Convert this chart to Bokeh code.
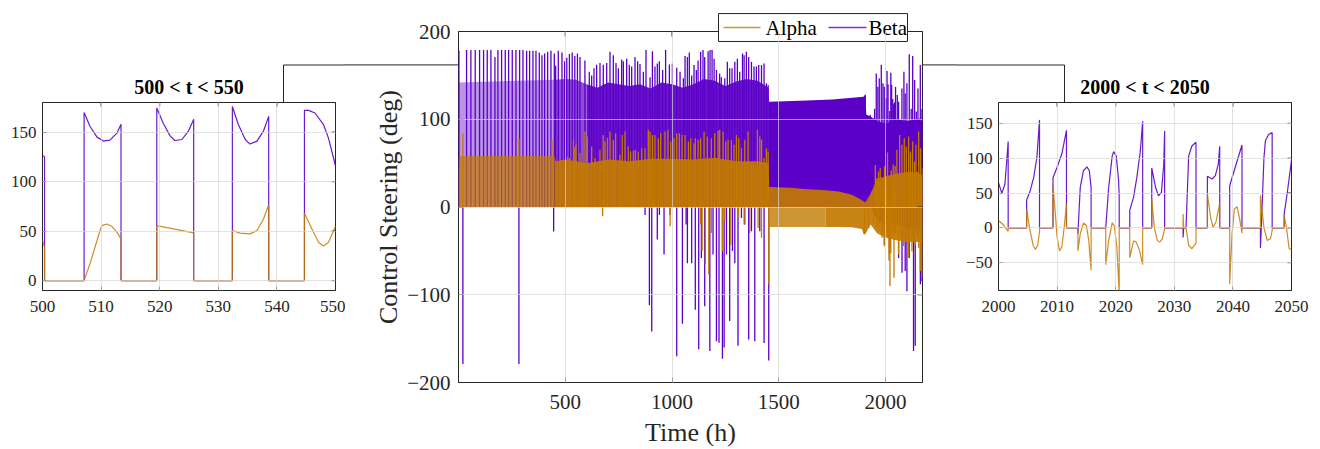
import numpy as np
from bokeh.plotting import figure
from bokeh.layouts import row, column
from bokeh.models import Range1d, FixedTicker, Title
from bokeh.core.properties import value
from bokeh.embed import file_html
from bokeh.resources import INLINE

FONT = "Liberation Serif"
BETA_C = "#5C00C8"
ALPHA_C = "#C27A00"
AX_C = "#262626"
GRID_C = "#d6d6d6"

# ---------------- inset 500 < t < 550 ----------------
l_beta_t = [500, 500.35, 500.35, 507.1, 507.1, 508.1, 509.3, 510.4, 511.5, 512.7, 513.4, 513.4,
            519.5, 519.5, 520.6, 521.8, 522.6, 523.8, 524.9, 525.8, 525.8,
            532.4, 532.4, 533.4, 534.6, 535.4, 536.6, 537.7, 538.6, 538.6,
            544.7, 544.7, 545.4, 546.5, 547.95, 548.8, 550]
l_beta_v = [126.5, 125.5, 0, 0, 170, 156, 145, 141, 142, 149, 158, 0,
            0, 174.4, 159, 146, 141.6, 142.6, 151, 163, 0,
            0, 176, 158, 142.6, 138, 141, 151, 166, 0,
            0, 172, 172, 169.4, 157.7, 144, 116]
l_alpha_t = [500, 500.35, 500.35,
             507.1, 508.1, 509.3, 510.1, 511.0, 511.8, 512.7, 513.4, 513.4,
             519.5, 519.5, 525.8, 525.8,
             532.4, 532.4, 533.7, 535.4, 536.6, 537.7, 538.6, 538.6,
             544.7, 544.7, 546.0, 547.1, 547.95, 548.8, 550]
l_alpha_v = [40.5, 33.8, 0,
             0, 17, 40.5, 55.6, 57.2, 55, 49, 42, 0,
             0, 55.6, 48.2, 0,
             0, 50.6, 48, 47.2, 50.6, 62, 76.7, 0,
             0, 68, 52, 38.8, 35, 38.8, 54.6]

# ---------------- inset 2000 < t < 2050 ----------------
r_beta_t = [2000, 2000.57, 2001.1, 2001.4, 2001.65, 2001.65, 2004.8,
            2004.8, 2005.4, 2006, 2006.55, 2007.0, 2007.0, 2009.3,
            2009.3, 2010, 2010.8, 2011.6, 2011.6, 2013.55,
            2013.55, 2013.95, 2014.5, 2015.1, 2015.5, 2015.8, 2015.8, 2018.3,
            2018.8, 2019.4, 2019.65, 2020.1, 2020.5, 2020.6, 2020.6, 2022.4,
            2022.4, 2023.05, 2023.6, 2024.2, 2024.6, 2024.6, 2026.15,
            2026.15, 2026.8, 2027.3, 2027.8, 2028.2, 2028.35, 2028.35, 2031.5,
            2031.5, 2031.6, 2032.0,
            2032.45, 2033.0, 2033.7, 2033.7, 2035.65,
            2035.65, 2036.45, 2037.0, 2037.5, 2037.75, 2037.75, 2039.45,
            2039.45, 2040.4, 2041.55, 2041.55, 2044.7,
            2044.7, 2044.85, 2045.3, 2045.55, 2046.1, 2046.7, 2046.7, 2048.75,
            2048.75, 2049.25, 2050]
r_beta_v = [65, 49.5, 63, 96, 124, 0, 0,
            40, 53, 72, 101, 155, 0, 0,
            72, 87, 106, 140, 0, 0,
            -8.6, 58, 82, 87.6, 82, 58, 0, 0,
            58, 103, 109.5, 103, 67.6, 44, 0, 0,
            25, 44, 72, 110, 153, 0, 0,
            86, 58, 46, 51, 91, 139, 0, 0,
            -14, 0, 0,
            103, 117.6, 123, 0, 0,
            74, 70, 75, 91, 117, 0, 0,
            60.5, 87, 119, 0, 0,
            -29, 0, 101, 125, 134, 136.7, 0, 0,
            20, 48.6, 97]
r_alpha_t = [2000, 2000.85, 2001.65, 2001.65, 2004.8,
             2004.8, 2005.3, 2005.9, 2006.3, 2006.7, 2007.0, 2007.0, 2009.3,
             2009.3, 2009.7, 2010, 2010.4, 2010.8, 2011.2, 2011.6, 2011.6, 2013.55,
             2013.55, 2013.95, 2014.5, 2015, 2015.4, 2015.8, 2015.8, 2018.3,
             2018.3, 2018.8, 2019.4, 2019.75, 2020.2, 2020.6, 2020.6, 2022.4,
             2022.4, 2023.05, 2023.5, 2024.05, 2024.6, 2024.6, 2026.15,
             2026.15, 2026.6, 2027.1, 2027.5, 2027.95, 2028.35, 2028.35, 2031.5,
             2031.5, 2031.6, 2032.0, 2032.45, 2033.0, 2033.7, 2033.7, 2035.65,
             2035.65, 2036.2, 2036.6, 2037.1, 2037.75, 2037.75, 2039.45,
             2039.45, 2039.85, 2040.25, 2040.7, 2041.15, 2041.55, 2041.55, 2044.7,
             2044.7, 2045.3, 2045.85, 2046.4, 2046.7, 2046.7, 2048.75,
             2048.75, 2049.15, 2049.6, 2050]
r_alpha_v = [10.5, 4, -5, 0, 0,
             27, 0, -25, -31, -25, -5, 0, 0,
             62, 20, -13, -33, -27.6, 0, 34, 0, 0,
             -33, -8.6, 7, 3.3, -18, -61, 0, 0,
             -53, -18, 7, 3.3, -27.6, -95, 0, 0,
             -43, -18.6, -20.5, -32, -53, 0, 0,
             42, 0, -18, -20.5, -15.7, -1.4, 0, 0,
             20, 0, 0, -25, -30, -22, 0, 0,
             48.6, 15, 1, 8, 35, 0, 0,
             -80.5, -8.6, 27, 30.5, 13, -7.6, 0, 0,
             46.7, 0, -18, -15.7, -4, 0, 0,
             17.6, 0, -30, -31]

# ---------------- main panel: dense bodies (envelopes) ----------------
beta_body_t = [0, 450, 500, 550, 600, 650, 700, 750, 800, 850, 900, 950, 1000, 1050,
               1100, 1150, 1200, 1250, 1300, 1350, 1400, 1452,
               1455, 1600, 1750, 1897, 1905, 1910, 1930, 1960, 2000, 2050, 2100, 2150, 2173]
beta_body_hi = [142, 145, 146, 145, 140, 136, 142, 140, 138, 140, 135, 142, 140, 136,
                140, 146, 144, 138, 143, 146, 144, 136,
                120, 121, 122.5, 125.7, 128, 105, 103, 98, 95, 100, 98, 100, 98]
beta_body_lo = [0, 0, 0, 0, 0, 0, 0, 0, 0, 0, 0, 0, 0, 0,
                0, 0, 0, 0, 0, 0, 0, 0,
                0, 0, 0, 0, 0, 0, 0, -15, -20, -20, -25, -25, -25]

alpha_body_t = [0, 5, 450, 455, 500, 550, 600, 700, 800, 900, 1000, 1100, 1200, 1300, 1400, 1452,
                1455, 1550, 1623, 1720, 1780, 1842, 1889, 1897, 1905, 1930, 1960, 2000, 2050, 2100, 2150, 2173]
alpha_body_hi = [40, 58, 58, 52, 54, 52, 50, 54, 52, 55, 55, 54, 56, 52, 52, 50,
                 22.7, 21.8, 20.5, 19.2, 17.8, 14, 8, 6.4, 5, 15, 32, 35, 38, 40, 40, 36]
alpha_body_lo = [0, 0, 0, 0, 0, 0, 0, 0, 0, 0, 0, 0, 0, 0, 0, 0,
                 -22.7, -22.7, -22.7, -22.7, -22.7, -23, -25, -31, -31, -20, -30, -35, -38, -40, -40, -40]

# ---------------- main panel: individual excursions ----------------
beta_spk_t = [2, 37.8, 58, 78.4, 98.7, 117.4, 134.6, 151.8, 170.6, 184.6, 201.8, 219, 234.6, 251.8,
              269, 286.2, 301.8, 319, 333, 348.7, 362.8, 378.4, 390.9, 403.4, 417.4, 433, 448.7,
              455, 467.4, 484.6, 497, 507.1, 519.5, 532.4, 544.7,
              557, 569, 592, 612.6, 623.6, 634.5, 647, 662.6, 678, 694, 709.5, 725, 737.6, 748.6,
              764, 772, 787.6, 800, 811, 826.7, 839, 850, 865.7, 878, 897, 908, 920, 931, 940.7,
              956, 970, 987.6, 1001.7, 1022, 1037.6, 1053, 1061, 1072, 1081, 1092, 1103,
              1114, 1122, 1134, 1145, 1153, 1169, 1178, 1187.5, 1197, 1208, 1223, 1231, 1247,
              1259, 1270, 1281, 1294, 1306, 1317, 1330, 1337.5, 1348, 1359, 1372, 1384, 1395,
              1406, 1419, 1431, 1442, 1450,
              1905, 1928, 1936, 1948.6, 1956.4, 1964, 1970.5, 1980, 1987.7, 1994,
              2001.65, 2007, 2011.6, 2015.1, 2019.65, 2024.6, 2028.35, 2033.7, 2037.75, 2041.55,
              2046.7, 2055, 2061, 2076.7, 2086, 2092, 2100, 2111, 2120, 2127, 2136, 2144,
              2151.7, 2162.7, 2170.5,
              20.5, 283, 445.6, 873.6, 894, 905, 931, 941, 962.6, 990.7, 1022, 1048.6, 1066,
              1072, 1092, 1109, 1125, 1137.5, 1153, 1177, 1192, 1208, 1220, 1236, 1244, 1255,
              1270, 1283, 1294, 1309, 1325, 1340.6, 1359, 1372, 1387.5, 1411, 1431, 1453,
              1983, 1995, 2013.55, 2031.5, 2044.7, 2061, 2077, 2092, 2100, 2111, 2123.6,
              2131, 2139, 2148.6, 2163, 2170.5]
beta_spk_v = [178, 179, 179, 179, 179, 179, 179, 179, 171, 179, 179, 179, 179, 179,
              179, 179, 179, 178, 178, 178, 178, 176, 173, 175, 177, 178, 175,
              161, 178, 176, 166, 170, 174.4, 176, 172,
              175, 171, 167, 154, 150, 158, 162, 164, 162, 164, 177, 173, 164, 158,
              168, 166, 169, 162, 160, 171, 166, 163, 154, 178.8, 148, 177.6, 160, 163.6, 166,
              156, 178.8, 162.5, 163.6, 158.7, 154, 146.6, 172, 171, 176, 150, 161.7,
              156, 167, 177, 178.8, 171, 177.6, 178.8, 178.8, 169, 156, 152, 148, 146.6,
              165.5, 158, 158, 165.5, 169, 154, 175, 173, 177, 171, 165.5, 160, 160,
              161.7, 161.7, 163.6, 141, 139,
              128, 105, 101, 112, 152, 137, 146.6, 162, 141, 137,
              124, 155, 140, 87.6, 109.5, 153, 139, 123, 117, 119,
              136.7, 127.6, 120, 135, 154, 129.5, 141, 174, 112, 172, 144.7, 108.7,
              135, 161.7, 112,
              -179, -179, -28, -9, -112, -142, -37, -9, -54, -9, -170, -133, -20,
              -64, -64, -117, -162, -58, -113, -164, -54, -153, -154.6, -173, -160, -54,
              -130, -50, -64, -158, -12.5, -20, -151, -27.7, -153, -27.7, -155, -175,
              -28, -43, -8.6, -14, -29, -58, -75, -73, -96, -58, -35,
              -164, -158, -35, -88, -84.5]

alpha_spk_t = [20.5, 283, 438, 511, 519.5, 538.6, 544.7,
               550, 569, 592, 603, 623.6, 639, 662.6, 678, 686, 697, 709.5, 725, 736, 756, 767,
               780, 795, 806, 819, 828, 842, 858, 873.6, 889, 897, 908, 920, 936, 947, 967, 981,
               994, 1009.5, 1022, 1034.5, 1047, 1061, 1076.7, 1087.6, 1103, 1109, 1122, 1134,
               1150, 1165.6, 1184, 1200, 1215.6, 1223, 1239, 1251.6, 1262.5, 1278, 1290.6,
               1301.6, 1312.5, 1325, 1340.6, 1356, 1372, 1384, 1400, 1411, 1419, 1431, 1442, 1450,
               1936, 1952, 1959.6, 1967, 1975, 1987.7, 1995, 2004.8, 2009.3, 2011.6, 2026.15,
               2031.5, 2035.65, 2037.75, 2040.7, 2044.7, 2048.75, 2053, 2066, 2076.7, 2087.7,
               2097, 2108, 2117, 2126.7, 2136, 2142.4, 2155, 2164, 2173,
               675, 991, 1134, 1141, 1156, 1172, 1184, 1236, 1247, 1275, 1312, 1337.5, 1364,
               1403, 1419, 1453, 1902, 1920.5, 1944, 1959.6, 1967, 1983, 1994, 2006.3, 2010.4,
               2013.55, 2015.8, 2018.3, 2020.6, 2022.4, 2024.6, 2033, 2039.45, 2050, 2061,
               2073.6, 2084.5, 2092, 2108, 2123.6, 2139, 2155, 2162.7, 2170.5]
alpha_spk_v = [84, 78, 76.5, 57.2, 55.6, 76.7, 68,
               70.8, 61.4, 86, 80.3, 69, 55.7, 65.2, 82, 74.6, 79, 86, 76.5, 84, 59.5, 82,
               86, 69, 63.3, 64, 65.2, 63.3, 67, 67, 88, 86, 82, 82, 78.4, 84, 86, 88,
               74.6, 78.4, 84, 84, 82, 82, 74.6, 78.4, 72.7, 78.4, 76.5, 78.4,
               86, 80.3, 78.4, 84, 86.7, 88, 86, 74.6, 76.5, 76.5, 70.8,
               82, 78.4, 67, 76.5, 86, 50, 48, 88, 80.3, 76.5, 55.7, 67, 63.3,
               17.8, 48, 33, 40.5, 44.3, 33, 46.2, 27, 62, 34, 42,
               20, 48.6, 35, 30.5, 46.7, 17.6, 65.2, 82, 70.8, 78.4,
               69, 80.3, 63.3, 74.6, 51.9, 70.8, 86, 67, 44.3,
               -10.6, -22, -20, -50, -65, -77, -29.6, -50.4, -16.3, -43, -12.5, -20, -29.6,
               -24, -35, -88, -31, -24, -20, -24, -27.7, -35, -44.7, -31, -33,
               -33, -61, -53, -90, -43, -53, -30, -80.5, -31, -54,
               -35, -44.7, -35, -58, -50.4, -43, -46.6, -73, -80.7]

series_names = ["Alpha", "Beta"]
main_xticks = [500, 1000, 1500, 2000]
main_yticks = [-200, -100, 0, 100, 200]
l_xticks = [500, 510, 520, 530, 540, 550]
l_yticks = [0, 50, 100, 150]
r_xticks = [2000, 2010, 2020, 2030, 2040, 2050]
r_yticks = [-50, 0, 50, 100, 150]


def make_fig(width, height, xr, yr, borders):
    l, r, t, b = borders
    p = figure(width=width, height=height, x_range=Range1d(*xr), y_range=Range1d(*yr),
               output_backend="svg", toolbar_location=None,
               min_border_left=l, min_border_right=r, min_border_top=t, min_border_bottom=b,
               background_fill_color="white", border_fill_color="white",
               outline_line_color=AX_C, outline_line_width=1)
    return p


def style(p, frame, xr, yr, xticks, yticks, fsize, tick_len, xstand, ystand):
    xa, ya = p.xaxis[0], p.yaxis[0]
    xa.ticker = FixedTicker(ticks=xticks)
    ya.ticker = FixedTicker(ticks=yticks)
    for ax in (xa, ya):
        ax.axis_line_color = None
        ax.major_tick_in = tick_len
        ax.major_tick_out = 0
        ax.minor_tick_in = 0
        ax.minor_tick_out = 0
        ax.major_tick_line_color = AX_C
        ax.major_label_text_font = FONT
        ax.major_label_text_font_size = fsize
        ax.major_label_text_color = AX_C
    xa.major_label_standoff = xstand
    ya.major_label_standoff = ystand
    # inward ticks on the top and right edges of the box
    fw, fh = frame[2], frame[3]
    dy = tick_len / fh * (yr[1] - yr[0])
    dx = tick_len / fw * (xr[1] - xr[0])
    xt = np.array(xticks, dtype=float)
    yt = np.array(yticks, dtype=float)
    p.segment(x0=xt, y0=np.full(len(xt), yr[1]), x1=xt, y1=np.full(len(xt), yr[1] - dy),
              line_color=AX_C, line_width=1, level="overlay")
    p.segment(x0=np.full(len(yt), xr[1]), y0=yt, x1=np.full(len(yt), xr[1] - dx), y1=yt,
              line_color=AX_C, line_width=1, level="overlay")
    p.xgrid.ticker = FixedTicker(ticks=xticks)
    p.ygrid.ticker = FixedTicker(ticks=yticks)
    for g in (p.xgrid[0], p.ygrid[0]):
        g.grid_line_color = GRID_C
        g.grid_line_alpha = 0.7
        g.level = "overlay"
    return xa, ya


def to_data(frame, xr, yr, px, py):
    fl, ft, fw, fh = frame
    return (xr[0] + (px - fl) / fw * (xr[1] - xr[0]),
            yr[1] - (py - ft) / fh * (yr[1] - yr[0]))


def connector(p, frame, xr, yr, pts):
    # decoration: page-pixel path converted to the figure's data space
    xy = [to_data(frame, xr, yr, px, py) for px, py in pts]
    p.line([a for a, b in xy], [b for a, b in xy], line_color=AX_C, line_width=1, level="overlay")


# ---------------- left inset ----------------
L_XR, L_YR = (500, 550), (-10, 180)
L_FRAME = (42, 102, 293, 188)
pl = make_fig(345, 449, L_XR, L_YR, (42, 10, 102, 159))
style(pl, L_FRAME, L_XR, L_YR, l_xticks, l_yticks, "17px", 4, 10, 6)
pl.add_layout(Title(text="500 < t < 550", align="center", text_font=FONT, text_font_size="20px",
                    text_font_style="bold", text_color="black", standoff=10), "above")
pl.line(l_beta_t, l_beta_v, line_color=BETA_C, line_width=1.2, line_alpha=0.9)
pl.line(l_alpha_t, l_alpha_v, line_color=ALPHA_C, line_width=1.2, line_alpha=0.85)
connector(pl, L_FRAME, L_XR, L_YR, [(283, 102), (283, 64.5), (350, 64.5)])

# ---------------- main panel ----------------
M_XR, M_YR = (0, 2173), (-200, 200)
M_FRAME = (113, 31, 464, 352)
pm = make_fig(613, 449, M_XR, M_YR, (113, 36, 31, 66))
mxa, mya = style(pm, M_FRAME, M_XR, M_YR, main_xticks, main_yticks, "21px", 5, 12, 8)
mxa.axis_label = "Time (h)"
mya.axis_label = "Control Steering (deg)"
for ax in (mxa, mya):
    ax.axis_label_text_font = FONT
    ax.axis_label_text_font_size = "26px"
    ax.axis_label_text_font_style = "normal"
    ax.axis_label_text_color = AX_C
mxa.axis_label_standoff = 6
mya.axis_label_standoff = 1

bt = np.array(beta_body_t, dtype=float)
bh = np.array(beta_body_hi, dtype=float)
bl = np.array(beta_body_lo, dtype=float)
for t0, t1, a in ((0, 450, 0.42), (450, 600, 0.7), (600, 1452, 0.92), (1452, 2173, 1.0)):
    m = (bt >= t0) & (bt <= t1)
    pm.varea(x=bt[m], y1=bl[m], y2=bh[m], fill_color=BETA_C, fill_alpha=a)
bzero = np.zeros(len(beta_spk_t))
pm.segment(x0=beta_spk_t, y0=bzero, x1=beta_spk_t, y1=beta_spk_v,
           line_color=BETA_C, line_width=1.3)

at = np.array(alpha_body_t, dtype=float)
ah = np.array(alpha_body_hi, dtype=float)
al = np.array(alpha_body_lo, dtype=float)
for t0, t1, a in ((0, 450, 0.72), (450, 2173, 0.92)):
    m = (at >= t0) & (at <= t1)
    pm.varea(x=at[m], y1=np.zeros(m.sum()), y2=ah[m], fill_color=ALPHA_C, fill_alpha=a)
for t0, t1, a in ((1452, 1720, 0.8), (1720, 2173, 0.92)):
    m = (at >= t0) & (at <= t1)
    pm.varea(x=at[m], y1=al[m], y2=np.zeros(m.sum()), fill_color=ALPHA_C, fill_alpha=a)
azero = np.zeros(len(alpha_spk_t))
pm.segment(x0=alpha_spk_t, y0=azero, x1=alpha_spk_t, y1=alpha_spk_v,
           line_color=ALPHA_C, line_width=1.3)

# legend box (straddles the top edge of the axes, so drawn at overlay level)
lx0, ly0 = to_data(M_FRAME, M_XR, M_YR, 373, 13)
lx1, ly1 = to_data(M_FRAME, M_XR, M_YR, 562, 41)
pm.quad(left=[lx0], right=[lx1], top=[ly0], bottom=[ly1], fill_color="white",
        line_color=AX_C, line_width=1, level="overlay")
ax0, ymid = to_data(M_FRAME, M_XR, M_YR, 378, 27)
ax1, _ = to_data(M_FRAME, M_XR, M_YR, 415, 27)
bx0, _ = to_data(M_FRAME, M_XR, M_YR, 483, 27)
bx1, _ = to_data(M_FRAME, M_XR, M_YR, 521, 27)
atx, _ = to_data(M_FRAME, M_XR, M_YR, 420, 27)
btx, _ = to_data(M_FRAME, M_XR, M_YR, 523, 27)
pm.segment(x0=[ax0, bx0], y0=[ymid, ymid], x1=[ax1, bx1], y1=[ymid, ymid],
           line_color=[ALPHA_C, BETA_C], line_width=1.3, line_alpha=0.8, level="overlay")
pm.text(x=[atx, btx], y=[ymid, ymid], text=series_names, text_font=value(FONT),
        text_font_size=value("21px"), text_color="black", text_baseline="middle",
        text_align="left", level="overlay")
connector(pm, M_FRAME, M_XR, M_YR, [(-10, 64.5), (113, 64.5)])
connector(pm, M_FRAME, M_XR, M_YR, [(577, 64.5), (625, 64.5)])

# ---------------- right inset ----------------
R_XR, R_YR = (2000, 2050), (-90, 180)
R_FRAME = (40, 102, 293, 188)
pr = make_fig(362, 449, R_XR, R_YR, (40, 29, 102, 159))
style(pr, R_FRAME, R_XR, R_YR, r_xticks, r_yticks, "17px", 4, 10, 6)
pr.add_layout(Title(text="2000 < t < 2050", align="center", text_font=FONT, text_font_size="20px",
                    text_font_style="bold", text_color="black", standoff=10), "above")
pr.line(r_beta_t, r_beta_v, line_color=BETA_C, line_width=1.2, line_alpha=0.9)
pr.line(r_alpha_t, r_alpha_v, line_color=ALPHA_C, line_width=1.2, line_alpha=0.85)
connector(pr, R_FRAME, R_XR, R_YR, [(-10, 64.5), (106, 64.5), (106, 102)])

layout = row(column(pl), column(pm), column(pr))
open("out.html", "w").write(file_html(layout, INLINE))
